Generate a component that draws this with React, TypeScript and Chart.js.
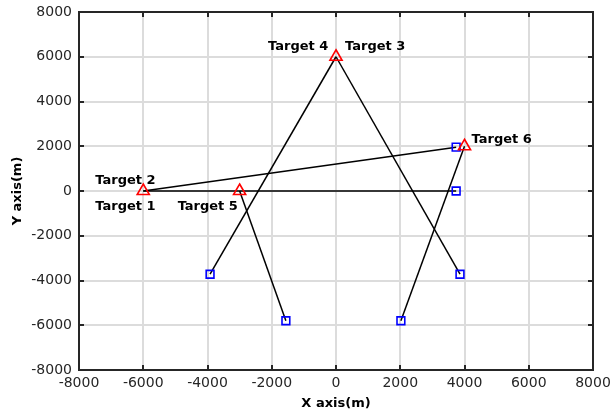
import React, { useEffect, useRef } from "react";
import { Chart, registerables } from "chart.js";

Chart.register(...registerables);

// ---- Data ----
const targetX = [-6000, -3000, 0, 4000];
const targetY = [0, 0, 6000, 2000];
const sensorX = [3740, 3740, -3920, -1560, 2020, 3860];
const sensorY = [1960, 0, -3720, -5800, -5800, -3720];
// [target index, sensor index]
const links: [number, number][] = [
  [0, 0],
  [0, 1],
  [1, 3],
  [2, 2],
  [2, 5],
  [3, 4],
];
const labelNames = ["Target 1", "Target 2", "Target 3", "Target 4", "Target 5", "Target 6"];
const labelTarget = [0, 0, 2, 2, 1, 3];
const tickValues = [-8000, -6000, -4000, -2000, 0, 2000, 4000, 6000, 8000];

// label offsets in pixels (style)
const labelOffsets: [number, number][] = [
  [-48, 16],
  [-48, -10],
  [9, -10],
  [-68, -10],
  [-62, 16],
  [7, -7],
];

const AX = "#262626";
const FONT = "'DejaVu Sans', sans-serif";

const framePlugin = {
  id: "frameTicks",
  afterDatasetsDraw(chart: any) {
    const { ctx, chartArea } = chart;
    const xs = chart.scales.x;
    const ys = chart.scales.y;
    const { left, right, top, bottom } = chartArea;
    ctx.save();
    ctx.strokeStyle = AX;
    ctx.lineWidth = 2;
    ctx.strokeRect(left, top, right - left, bottom - top);
    const tl = 5;
    ctx.beginPath();
    tickValues.forEach((v) => {
      const px = Math.round(xs.getPixelForValue(v));
      ctx.moveTo(px, bottom);
      ctx.lineTo(px, bottom - tl);
      ctx.moveTo(px, top);
      ctx.lineTo(px, top + tl);
      const py = Math.round(ys.getPixelForValue(v));
      ctx.moveTo(left, py);
      ctx.lineTo(left + tl, py);
      ctx.moveTo(right, py);
      ctx.lineTo(right - tl, py);
    });
    ctx.stroke();

    // annotations
    ctx.fillStyle = "#000";
    ctx.font = `bold 13px ${FONT}`;
    ctx.textAlign = "left";
    ctx.textBaseline = "middle";
    labelNames.forEach((name, i) => {
      const t = labelTarget[i];
      const px = xs.getPixelForValue(targetX[t]);
      const py = ys.getPixelForValue(targetY[t]);
      const [dx, dy] = labelOffsets[i];
      ctx.fillText(name, px + dx, py + dy);
    });
    ctx.restore();
  },
};

export default function App() {
  const ref = useRef<HTMLCanvasElement | null>(null);

  useEffect(() => {
    if (!ref.current) return;
    const lineSets = links.map(([t, s]) => ({
      type: "scatter" as const,
      data: [
        { x: targetX[t], y: targetY[t] },
        { x: sensorX[s], y: sensorY[s] },
      ],
      showLine: true,
      borderColor: "#000",
      borderWidth: 1.5,
      pointRadius: 0,
      fill: false,
    }));
    const chart = new Chart(ref.current, {
      type: "scatter",
      data: {
        datasets: [
          {
            data: targetX.map((x, i) => ({ x, y: targetY[i] })),
            pointStyle: "triangle",
            pointRadius: 7,
            borderColor: "#ff0000",
            backgroundColor: "rgba(0,0,0,0)",
            borderWidth: 1.6,
            showLine: false,
          },
          {
            data: sensorX.map((x, i) => ({ x, y: sensorY[i] })),
            pointStyle: "rect",
            pointRadius: 5.5,
            borderColor: "#0000ff",
            backgroundColor: "rgba(0,0,0,0)",
            borderWidth: 1.6,
            showLine: false,
          },
          ...lineSets,
        ] as any,
      },
      options: {
        animation: false,
        responsive: false,
        events: [],
        layout: { padding: { top: 12, right: 17, left: 0, bottom: 0 } },
        plugins: { legend: { display: false }, tooltip: { enabled: false } },
        scales: {
          x: {
            type: "linear",
            min: -8000,
            max: 8000,
            afterBuildTicks: (s: any) => {
              s.ticks = tickValues.map((v) => ({ value: v }));
            },
            afterFit: (s: any) => {
              s.height = 44;
              s.paddingLeft = 0;
              s.paddingRight = 0;
            },
            border: { display: false },
            grid: { color: "#dcdcdc", lineWidth: 2, drawTicks: false },
            ticks: {
              color: AX,
              font: { family: FONT, size: 14 },
              padding: 5,
              maxRotation: 0,
              callback: (v: any) => String(v),
            },
            title: {
              display: true,
              text: "X axis(m)",
              color: "#000",
              font: { family: FONT, size: 13, weight: "bold" },
              padding: { top: 0, bottom: 3 },
            },
          },
          y: {
            type: "linear",
            min: -8000,
            max: 8000,
            afterBuildTicks: (s: any) => {
              s.ticks = tickValues.map((v) => ({ value: v }));
            },
            afterFit: (s: any) => {
              s.width = 79;
              s.paddingTop = 0;
              s.paddingBottom = 0;
            },
            border: { display: false },
            grid: { color: "#dcdcdc", lineWidth: 2, drawTicks: false },
            ticks: {
              color: AX,
              font: { family: FONT, size: 14 },
              padding: 7,
              callback: (v: any) => String(v),
            },
            title: {
              display: true,
              text: "Y axis(m)",
              color: "#000",
              font: { family: FONT, size: 13, weight: "bold" },
              padding: { top: 10, bottom: 0 },
            },
          },
        },
      },
      plugins: [framePlugin],
    });
    return () => chart.destroy();
  }, []);

  return (
    <div style={{ position: "absolute", left: 0, top: 0, width: 610, height: 414, background: "#fff" }}>
      <canvas ref={ref} width={610} height={414} style={{ display: "block" }} />
    </div>
  );
}
